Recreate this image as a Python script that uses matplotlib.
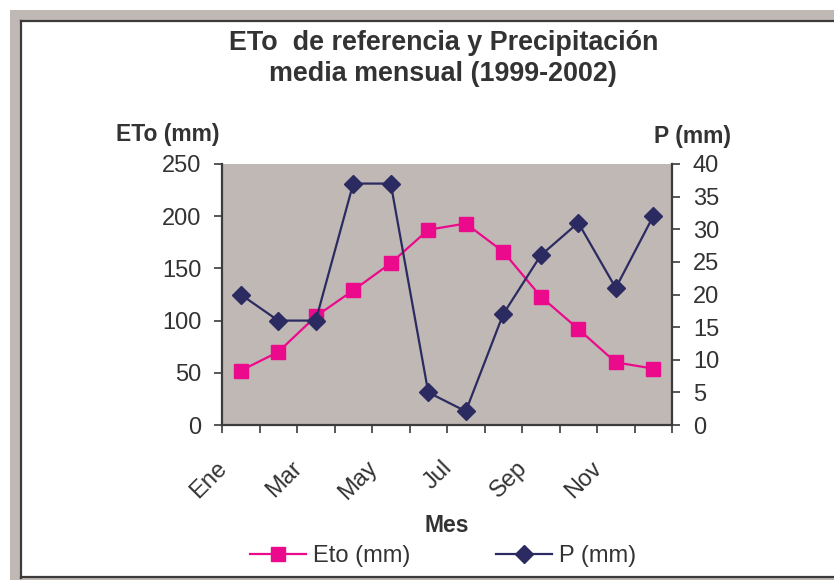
import matplotlib
matplotlib.use("Agg")
import matplotlib.pyplot as plt
import matplotlib.transforms as mtransforms
from matplotlib.patches import Rectangle
from matplotlib.lines import Line2D
import numpy as np

plt.rcParams['font.family'] = ['Liberation Sans', 'DejaVu Sans']

# Monthly means 1999-2002
months = ['Ene', 'Feb', 'Mar', 'Abr', 'May', 'Jun', 'Jul', 'Ago', 'Sep', 'Oct', 'Nov', 'Dic']
eto_mm = [52, 70, 104, 129, 155, 187, 193, 166, 123, 92, 60, 54]
p_mm = [20, 16, 16, 37, 37, 5, 2.1, 17, 26, 31, 21, 32]

W, H = 834, 580
fig = plt.figure(figsize=(W / 100, H / 100), dpi=100)
fig.patch.set_facecolor('white')

frame_gray = '#C0B8B4'
text_col = '#333333'
axis_col = '#3C3A3A'
eto_col = '#EC0A8C'
p_col = '#2B2B62'


def fx(px):
    return px / W


def fy(py):
    return 1 - py / H


# outer frame: gray border with dark inner edge
fig.patches.append(Rectangle((fx(10), 0), 1 - fx(10), fy(10), transform=fig.transFigure,
                             facecolor=frame_gray, edgecolor='none', zorder=-10))
fig.patches.append(Rectangle((fx(20), fy(578)), 1 - fx(20), fy(20) - fy(578),
                             transform=fig.transFigure, facecolor='white',
                             edgecolor='none', zorder=-9))
fig.lines.append(Line2D([fx(21), fx(21)], [fy(578), fy(21)], transform=fig.transFigure,
                        color=axis_col, lw=1.6, zorder=-8))
fig.lines.append(Line2D([fx(21), 1], [fy(21), fy(21)], transform=fig.transFigure,
                        color=axis_col, lw=1.6, zorder=-8))
fig.lines.append(Line2D([fx(21), 1], [fy(577), fy(577)], transform=fig.transFigure,
                        color=axis_col, lw=1.6, zorder=-8))

left, right, top, bottom = 222, 672, 164, 425
ax = fig.add_axes([fx(left), fy(bottom), fx(right) - fx(left), fy(top) - fy(bottom)])
ax.set_facecolor(frame_gray)
ax2 = ax.twinx()

n = len(months)
xs = np.arange(n) + 0.5

ax.plot(xs, eto_mm, color=eto_col, lw=1.6, marker='s', markersize=9.5,
        markerfacecolor=eto_col, markeredgecolor=eto_col, zorder=3, label='Eto (mm)')
ax2.plot(xs, p_mm, color=p_col, lw=1.6, marker='D', markersize=9,
         markerfacecolor=p_col, markeredgecolor=p_col, zorder=3, label='P (mm)')

ax.set_xlim(0, n)
ax.set_ylim(0, 250)
ax2.set_ylim(0, 40)
ax.set_yticks(np.arange(0, 251, 50))
ax2.set_yticks(np.arange(0, 41, 5))

for a in (ax, ax2):
    a.spines['top'].set_visible(False)
    for s in ('left', 'right', 'bottom'):
        a.spines[s].set_color(axis_col)
        a.spines[s].set_linewidth(1.6)
ax.spines['right'].set_visible(False)
ax2.spines['left'].set_visible(False)
ax2.spines['bottom'].set_visible(False)

ax.tick_params(axis='y', direction='out', length=6, width=1.2, color=axis_col,
               labelsize=17, labelcolor=text_col, pad=9)
ax2.tick_params(axis='y', direction='out', length=6, width=1.2, color=axis_col,
                labelsize=17, labelcolor=text_col, pad=9)

# category boundaries carry the tick marks, every other month carries a label
ax.set_xticks(np.arange(0, n + 1))
ax.set_xticklabels([''] * (n + 1))
ax.tick_params(axis='x', which='major', direction='out', length=6, width=1.2, color=axis_col)
ax.set_xticks(xs[::2], minor=True)
ax.set_xticklabels(months[::2], minor=True)
ax.tick_params(axis='x', which='minor', length=0, labelsize=17, labelcolor=text_col, pad=23)
shift = mtransforms.ScaledTranslation(-9 / 100, 0, fig.dpi_scale_trans)
for lab in ax.get_xticklabels(minor=True):
    lab.set_rotation(45)
    lab.set_ha('right')
    lab.set_va('top')
    lab.set_rotation_mode('default')
    lab.set_transform(lab.get_transform() + shift)

# titles and axis captions
fig.text(fx(444), fy(43), 'ETo  de referencia y Precipitación', ha='center', va='center',
         fontsize=19.4, fontweight='bold', color=text_col)
fig.text(fx(443), fy(74), 'media mensual (1999-2002)', ha='center', va='center',
         fontsize=19.4, fontweight='bold', color=text_col)
fig.text(fx(168), fy(135), 'ETo (mm)', ha='center', va='center',
         fontsize=16.5, fontweight='bold', color=text_col)
fig.text(fx(693), fy(137), 'P (mm)', ha='center', va='center',
         fontsize=16.5, fontweight='bold', color=text_col)
fig.text(fx(447), fy(526), 'Mes', ha='center', va='center',
         fontsize=16.5, fontweight='bold', color=text_col)

h1, l1 = ax.get_legend_handles_labels()
h2, l2 = ax2.get_legend_handles_labels()
leg = fig.legend(h1 + h2, l1 + l2, loc='center', bbox_to_anchor=(fx(443), fy(556)),
                 ncol=2, frameon=False, fontsize=17, handlelength=2.4,
                 handletextpad=0.3, columnspacing=3.6, borderpad=0)
for t in leg.get_texts():
    t.set_color(text_col)

fig.savefig('out.png', dpi=100)
